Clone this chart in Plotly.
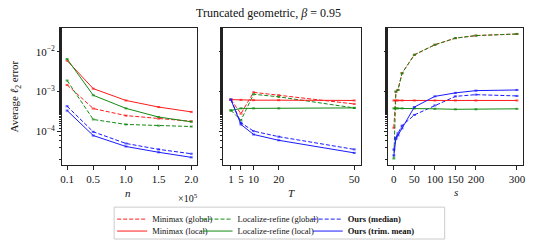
import plotly.graph_objects as go
from plotly.subplots import make_subplots

# ---------------- data ----------------
n_vals = [10000, 50000, 100000, 150000, 200000]
T_vals = [1, 5, 10, 20, 50]
s_vals = [0, 5, 10, 20, 50, 100, 150, 200, 300]

# panel n
n_minimax_global = [1.47e-3, 3.76e-4, 2.5e-4, 2.1e-4, 1.8e-4]
n_lr_global = [1.9e-3, 2.0e-4, 1.5e-4, 1.4e-4, 1.33e-4]
n_ours_median = [4.3e-4, 9.8e-5, 5.0e-5, 3.55e-5, 2.76e-5]
n_minimax_local = [6.0e-3, 1.19e-3, 6.0e-4, 4.1e-4, 3.1e-4]
n_lr_local = [6.6e-3, 8.1e-4, 3.8e-4, 2.3e-4, 1.75e-4]
n_ours_trim = [3.35e-4, 7.9e-5, 4.2e-5, 3.0e-5, 2.24e-5]

# panel T
T_minimax_global = [6.3e-4, 2.8e-4, 9.6e-4, 8.1e-4, 4.9e-4]
T_lr_global = [3.4e-4, 1.9e-4, 8.6e-4, 7.4e-4, 3.9e-4]
T_ours_median = [6.3e-4, 1.65e-4, 1.02e-4, 7.4e-5, 3.55e-5]
T_minimax_local = [6.3e-4, 6.2e-4, 6.1e-4, 6.1e-4, 6.0e-4]
T_lr_local = [3.35e-4, 3.8e-4, 3.8e-4, 3.8e-4, 3.9e-4]
T_ours_trim = [6.3e-4, 1.5e-4, 8.4e-5, 6.0e-5, 2.9e-5]

# panel s
s_minimax_global = [1.24e-4, 1.0e-3, 1.1e-3, 2.9e-3, 8.4e-3, 1.5e-2, 2.2e-2, 2.55e-2, 2.8e-2]
s_lr_global = [2.1e-5, 1.0e-3, 1.1e-3, 2.9e-3, 8.4e-3, 1.5e-2, 2.2e-2, 2.55e-2, 2.8e-2]
s_ours_median = [3.5e-5, 7.0e-5, 9.0e-5, 1.4e-4, 2.6e-4, 4.5e-4, 7.6e-4, 8.4e-4, 7.8e-4]
s_minimax_local = [6.0e-4] * 9
s_lr_local = [3.8e-4, 3.8e-4, 3.8e-4, 3.8e-4, 3.8e-4, 3.7e-4, 3.6e-4, 3.6e-4, 3.7e-4]
s_ours_trim = [2.5e-5, 6.5e-5, 8.0e-5, 1.2e-4, 4.1e-4, 7.6e-4, 9.3e-4, 1.06e-3, 1.1e-3]

ytick_vals = [1e-4, 1e-3, 1e-2]
ytick_text = ["10<sup>−4</sup>", "10<sup>−3</sup>", "10<sup>−2</sup>"]
n_tick_text = ["0.1", "0.5", "1.0", "1.5", "2.0"]
s_ticks = [0, 50, 100, 150, 200, 300]

labels = ["Minimax (global)", "Localize-refine (global)", "<b>Ours (median)</b>",
          "Minimax (local)", "Localize-refine (local)", "<b>Ours (trim. mean)</b>"]

# ---------------- styles ----------------
RED, GREEN, BLUE = "#ff1a1a", "#138a13", "#1a1aff"
DASH = "4px,2px"
styles = [(RED, DASH), (GREEN, DASH), (BLUE, DASH),
          (RED, "solid"), (GREEN, "solid"), (BLUE, "solid")]
# legend slot (column px, row px) for each series
leg_col_px = [112, 198, 309, 112, 198, 309]
leg_row_px = [220, 220, 220, 232, 232, 232]
leg_names = ["legend", "legend2", "legend3", "legend4", "legend5", "legend6"]

fig = make_subplots(rows=1, cols=3)

xn = [v / 1e5 for v in n_vals]
panels = [
    (xn, [n_minimax_global, n_lr_global, n_ours_median, n_minimax_local, n_lr_local, n_ours_trim]),
    (T_vals, [T_minimax_global, T_lr_global, T_ours_median, T_minimax_local, T_lr_local, T_ours_trim]),
    (s_vals, [s_minimax_global, s_lr_global, s_ours_median, s_minimax_local, s_lr_local, s_ours_trim]),
]

for p, (xs, ys_list) in enumerate(panels):
    for i, ys in enumerate(ys_list):
        col, dash = styles[i]
        fig.add_trace(go.Scatter(
            x=xs, y=ys, mode="lines",
            line=dict(color=col, dash=dash, width=1),
            error_y=dict(type="percent", value=3, color=col, thickness=0.7, width=1.5),
            name=labels[i], legendgroup=str(i), showlegend=(p == 0),
            legend=leg_names[i],
        ), row=1, col=p + 1)

FONT = "Liberation Serif"
dom_x = [[61 / 539, 197 / 539], [224 / 539, 363 / 539], [390 / 539, 526 / 539]]
dom_y = [1 - 166 / 246, 1 - 28 / 246]

axis_common = dict(showline=True, linecolor="#222", linewidth=1, mirror=True,
                   ticks="outside", ticklen=3.5, tickwidth=0.8, tickcolor="#222",
                   showgrid=False, zeroline=False,
                   tickfont=dict(family=FONT, size=11, color="#111"))

fig.update_xaxes(**axis_common)
fig.update_yaxes(**axis_common)

fig.update_xaxes(domain=dom_x[0], range=[0.015, 2.08], tickvals=xn, ticktext=n_tick_text, row=1, col=1)
fig.update_xaxes(domain=dom_x[1], range=[-2, 52.8], tickvals=T_vals, row=1, col=2)
fig.update_xaxes(domain=dom_x[2], range=[-14, 315], tickvals=s_ticks, row=1, col=3)

for c in range(1, 4):
    fig.update_yaxes(domain=dom_y, type="log", range=[-4.85, -1.4],
                     tickvals=ytick_vals, ticktext=ytick_text,
                     showticklabels=(c == 1),
                     minor=dict(ticks="outside", ticklen=2, tickwidth=0.6, tickcolor="#222",
                                showgrid=False),
                     row=1, col=c)

def ann(text, x, y, size=11, **kw):
    fig.add_annotation(text=text, x=x, y=y, xref="paper", yref="paper",
                       xanchor="center", yanchor="middle",
                       showarrow=False, font=dict(family=FONT, size=size, color="#111"),
                       **kw)

ann("Truncated geometric, <i>β</i> = 0.95", 269 / 539, 1 - 13 / 246, size=12)
ann("<i>n</i>", 128 / 539, 1 - 194 / 246)
ann("×10<sup>5</sup>", 188 / 539, 1 - 199 / 246, size=10)
ann("<i>T</i>", 293 / 539, 1 - 194 / 246)
ann("<i>s</i>", 458 / 539, 1 - 193 / 246)
ann("Average <i>ℓ</i><sub>2</sub> error", 14 / 539, 1 - 97 / 246, textangle=-90)

# legend frame
fig.add_shape(type="rect", xref="paper", yref="paper",
              x0=114 / 539, x1=447 / 539, y0=1 - 240 / 246, y1=1 - 208 / 246,
              line=dict(color="#cccccc", width=1), fillcolor="rgba(255,255,255,0.8)",
              layer="below")

layout_legends = {}
for i, ln in enumerate(leg_names):
    layout_legends[ln] = dict(
        x=leg_col_px[i] / 539, xanchor="left",
        y=1 - leg_row_px[i] / 246, yanchor="middle",
        font=dict(family=FONT, size=8.5, color="#111"),
        bgcolor="rgba(0,0,0,0)", borderwidth=0, itemwidth=30,
    )

fig.update_layout(
    width=539, height=246,
    margin=dict(l=0, r=0, t=0, b=0),
    paper_bgcolor="white", plot_bgcolor="white",
    showlegend=True,
    **layout_legends,
)

fig.write_html("out.html", config={"displayModeBar": False},
               post_script="document.body.style.margin='0';document.body.style.padding='0';")
